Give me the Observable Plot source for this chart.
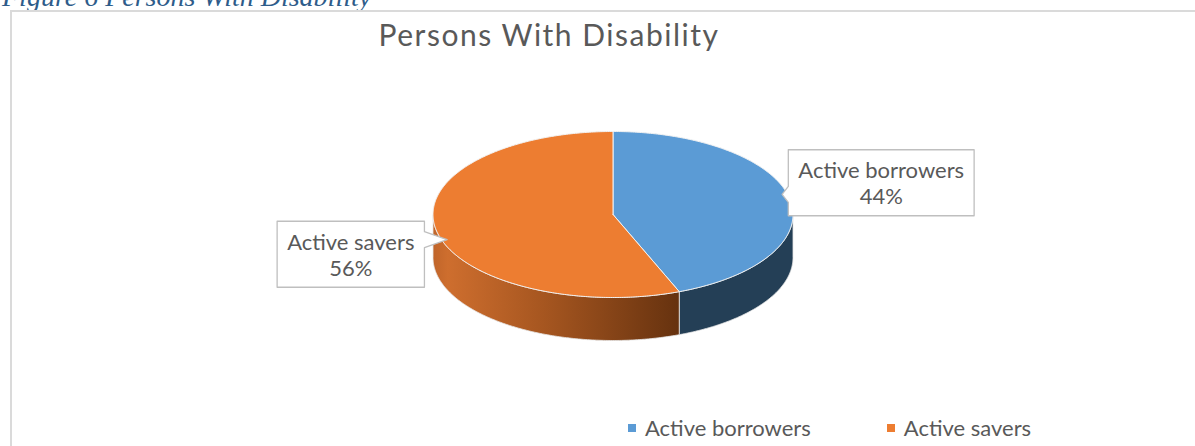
<!DOCTYPE html>
<html><head><meta charset="utf-8">
<script src="https://cdn.jsdelivr.net/npm/d3@7"></script>
<script src="https://cdn.jsdelivr.net/npm/@observablehq/plot@0.6"></script>
<style>
html,body{margin:0;padding:0;background:#fff;}
body{width:1195px;height:446px;overflow:hidden;position:relative;font-family:Lato,"Liberation Sans",sans-serif;}
#caption{position:absolute;left:2px;top:-17px;font:italic 28px/28px "Liberation Serif",serif;color:#2e5c8a;white-space:nowrap;}
#frame{position:absolute;left:10px;top:10px;width:1300px;height:600px;border-left:2px solid #dadada;border-top:2px solid #dadada;box-sizing:border-box;}
#title{position:absolute;left:0;width:1098px;top:17px;text-align:center;font-size:30px;letter-spacing:1.5px;line-height:34px;color:#595959;white-space:nowrap;}
#chart{position:absolute;left:0;top:0;}
#legend{position:absolute;left:628px;top:414px;display:flex;align-items:center;font-size:22px;line-height:28px;color:#595959;white-space:nowrap;}
#legend .item{display:flex;align-items:center;margin-right:76px;}
#legend .sw{width:8px;height:8px;margin-right:9px;}
</style>
</head><body>
<div id="caption">Figure 6 Persons With Disability</div>
<div id="frame"></div>
<div id="title">Persons With Disability</div>
<div id="chart"></div>
<div id="legend"></div>
<script>
// ---- data ----
const categories = ["Active borrowers", "Active savers"];
const shares = [44, 56];
const topColors = ["#5b9bd5", "#ed7d31"];
const sideColors = ["#243f56", "url(#saverSide)"];

// ---- layout (pixels) ----
const CX = 612.5, CY = 214, RX = 180, RY = 83, DEPTH_PX = 43;
const depth = DEPTH_PX / RY;
const FONT = 'Lato, "Liberation Sans", sans-serif';
const LABEL_SIZE = 22;

const pie = d3.pie().sort(null).startAngle(0).endAngle(2 * Math.PI)(shares);
const slices = pie.map((p, i) => ({
  name: categories[i], value: shares[i], a0: p.startAngle, a1: p.endAngle,
  top: topColors[i], side: sideColors[i]
}));

function arcPts(a0, a1, dy = 0) {
  const n = Math.max(2, Math.ceil(Math.abs(a1 - a0) / 0.01));
  return d3.range(n + 1).map(k => {
    const a = a0 + (a1 - a0) * k / n;
    return {x: Math.sin(a), y: Math.cos(a) - dy};
  });
}

const marks = [];
// gradient defs
marks.push(() => {
  const defs = d3.create("svg:defs");
  const g = defs.append("linearGradient").attr("id", "saverSide")
    .attr("x1", 0).attr("x2", 1).attr("y1", 0).attr("y2", 0);
  [[0, "#c0652a"], [0.06, "#ce6e2e"], [0.45, "#a65620"], [1, "#66320f"]].forEach(([o, c]) =>
    g.append("stop").attr("offset", o).attr("stop-color", c));
  return defs.node();
});

// side faces (visible front half only)
slices.forEach(s => {
  const lo = Math.max(s.a0, Math.PI / 2), hi = Math.min(s.a1, 3 * Math.PI / 2);
  if (hi <= lo) return;
  const pts = [...arcPts(lo, hi), ...arcPts(hi, lo, depth)];
  pts.push(pts[0]);
  marks.push(Plot.line(pts, {x: "x", y: "y", fill: s.side, stroke: "#e6e6e6", strokeWidth: 1, strokeOpacity: 0.8, curve: "linear"}));
});
// top faces
slices.forEach(s => {
  const pts = [{x: 0, y: 0}, ...arcPts(s.a0, s.a1), {x: 0, y: 0}];
  marks.push(Plot.line(pts, {x: "x", y: "y", fill: s.top, stroke: "#f2f2f2", strokeWidth: 1, curve: "linear"}));
});

// callouts
const ctx = document.createElement("canvas").getContext("2d");
ctx.font = `${LABEL_SIZE}px ${FONT}`;
const toU = (px, py) => ({x: (px - CX) / RX, y: (CY - py) / RY});
const labels = [];
slices.forEach(s => {
  const mid = (s.a0 + s.a1) / 2;
  const lx = CX + 1.5 * RX * Math.sin(mid) + 3;
  const ly = CY - 2.3 * RY * Math.cos(mid) + 4;
  const text = `${s.name}\n${s.value}%`;
  const w = Math.max(ctx.measureText(s.name).width, ctx.measureText(`${s.value}%`).width) + 20;
  const h = 66;
  const x0 = lx - w / 2, x1 = lx + w / 2, y0 = ly - h / 2, y1 = ly + h / 2;
  // tip: toward the box centre, just inside the rim
  const ang = Math.atan2((lx - CX) / RX, (CY - ly) / RY);
  const tx = CX + 0.97 * RX * Math.sin(ang), ty = CY - 0.97 * RY * Math.cos(ang);
  const bw = 8;
  let poly;
  if (tx < x0) {
    const c = Math.max(y0 + bw, Math.min(y1 - bw, ty));
    poly = [[x0, y0], [x1, y0], [x1, y1], [x0, y1], [x0, c + bw], [tx, ty], [x0, c - bw], [x0, y0]];
  } else if (tx > x1) {
    const c = Math.max(y0 + bw, Math.min(y1 - bw, ty));
    poly = [[x0, y0], [x1, y0], [x1, c - bw], [tx, ty], [x1, c + bw], [x1, y1], [x0, y1], [x0, y0]];
  } else if (ty < y0) {
    const c = Math.max(x0 + bw, Math.min(x1 - bw, tx));
    poly = [[x0, y0], [c - bw, y0], [tx, ty], [c + bw, y0], [x1, y0], [x1, y1], [x0, y1], [x0, y0]];
  } else {
    const c = Math.max(x0 + bw, Math.min(x1 - bw, tx));
    poly = [[x0, y0], [x1, y0], [x1, y1], [c + bw, y1], [tx, ty], [c - bw, y1], [x0, y1], [x0, y0]];
  }
  marks.push(Plot.line(poly.map(([a, b]) => toU(a, b)), {x: "x", y: "y", fill: "white", stroke: "#bfbfbf", strokeWidth: 1.3, curve: "linear"}));
  labels.push({...toU(lx, ly), text});
});
marks.push(Plot.text(labels, {x: "x", y: "y", text: "text", lineAnchor: "middle", lineHeight: 1.2,
  fontSize: LABEL_SIZE, fill: "#595959", fontFamily: FONT}));

const chart = Plot.plot({
  width: 1195, height: 446, margin: 0,
  style: {background: "transparent", overflow: "visible"},
  x: {domain: [-1, 1], range: [CX - RX, CX + RX], axis: null},
  y: {domain: [-1, 1], range: [CY + RY, CY - RY], axis: null},
  marks
});
document.getElementById("chart").appendChild(chart);

// legend
const legend = d3.select("#legend");
categories.forEach((c, i) => {
  const it = legend.append("div").attr("class", "item");
  it.append("div").attr("class", "sw").style("background", topColors[i]);
  it.append("span").text(c);
});
</script>
</body></html>
